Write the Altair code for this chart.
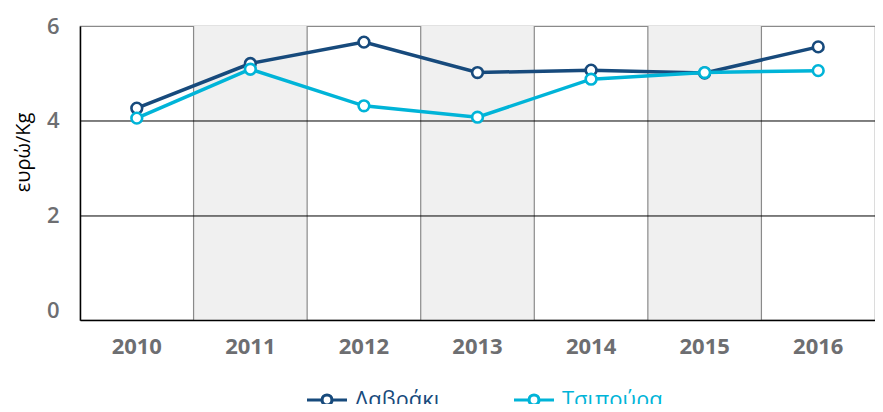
import altair as alt
import pandas as pd

years = ["2010", "2011", "2012", "2013", "2014", "2015", "2016"]
shaded_years = ["2011", "2013", "2015"]
series_names = ["Λαβράκι", "Τσιπούρα"]
lavraki = [4.27, 5.21, 5.66, 5.02, 5.07, 5.01, 5.56]
tsipoura = [4.06, 5.09, 4.32, 4.08, 4.88, 5.02, 5.06]
y_ticks = [0, 2, 4, 6]
h_grid = [2, 4]
colors = ["#174a7c", "#00b4d8"]
legend_x = [225, 432]

shade_df = pd.DataFrame({"year": shaded_years})
vline_df = pd.DataFrame({"year": years[1:]})
hline_df = pd.DataFrame({"v": h_grid})

FONT = "Open Sans"

x_scale = alt.Scale(domain=years, paddingInner=0, paddingOuter=0)
y_scale = alt.Scale(domain=[-0.19, 6], nice=False, zero=False)

x_axis = alt.Axis(title=None, ticks=False, grid=False, labelAngle=0, labelFont=FONT,
                  labelFontSize=22, labelFontWeight="bold", labelColor="#6d6e71",
                  labelPadding=16, domainColor="#000000", domainWidth=1.5)
y_axis = alt.Axis(title="ευρώ/Kg", values=y_ticks, ticks=False, grid=False, labelFont=FONT,
                  labelFontSize=22, labelFontWeight=600, labelColor="#6d6e71",
                  labelPadding=21, domainColor="#000000", domainWidth=1.5,
                  titleFont=FONT, titleFontSize=20, titleFontWeight="normal",
                  titleColor="#000000", titlePadding=13, titleY=126)

shade = alt.Chart(shade_df).mark_rect(color="#f0f0f0").encode(
    x=alt.X("year:O", scale=x_scale, axis=x_axis)
)
vrules = alt.Chart(vline_df).mark_rule(color="#8a8a8a", strokeWidth=1.2).encode(
    x=alt.X("year:O", scale=x_scale, bandPosition=0, axis=x_axis)
)
hrules = alt.Chart(hline_df).mark_rule(color="#000000", strokeWidth=1).encode(
    y=alt.Y("v:Q", scale=y_scale, axis=y_axis)
)

sym_path = ("M-1,0L-0.25,0M0.25,0L1,0"
            "M-0.25,0A0.25,0.25 0 1,1 0.25,0A0.25,0.25 0 1,1 -0.25,0")

series_layers = []
for name, vals, col, lx in zip(series_names, [lavraki, tsipoura], colors, legend_x):
    d = pd.DataFrame({"year": years, "series": [name] * len(years), "value": vals})
    legend = alt.Legend(
        title=None, orient="none", legendX=lx, legendY=352, direction="horizontal",
        symbolType=sym_path, symbolSize=1600, symbolStrokeWidth=3.2,
        symbolFillColor="white", symbolStrokeColor=col, labelFont=FONT, labelFontSize=22,
        labelColor=col, labelOffset=6,
    )
    stroke = alt.Stroke("series:N", scale=alt.Scale(domain=[name], range=[col]), legend=legend)
    base = alt.Chart(d).encode(
        x=alt.X("year:O", scale=x_scale, axis=x_axis),
        y=alt.Y("value:Q", scale=y_scale, axis=y_axis),
    )
    line = base.mark_line(strokeWidth=3.5).encode(stroke=stroke)
    pts = base.mark_point(shape="circle", filled=True, fill="white", stroke=col, size=115,
                          strokeWidth=2.6, opacity=1)
    series_layers.append(line)
    series_layers.append(pts)

chart = alt.layer(shade, vrules, hrules, *series_layers).resolve_scale(
    stroke="independent"
).properties(
    width=795, height=294,
    autosize=alt.AutoSizeParams(type="none"),
    padding={"left": 72, "top": 18, "right": 0, "bottom": 84},
).configure_view(stroke="#8a8a8a", strokeWidth=1.2)

chart.save("out.html", embed_options={"renderer": "svg", "actions": False})
